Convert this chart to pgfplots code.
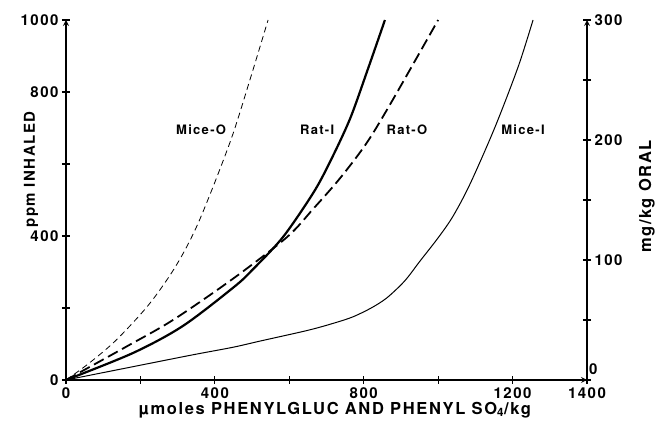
\documentclass[border=0pt]{standalone}
\usepackage{fontspec}
\setmainfont{TeX Gyre Heros}[LetterSpace=10]
\usepackage{pgfplots}
\pgfplotsset{compat=1.18}

% pixel-ish layout: 1 px of the reference = 1 pt here
\pgfplotsset{
  base/.style={
    scale only axis, width=521pt, height=360pt,
    at={(0,0)}, anchor=south west,
    xmin=0, xmax=1400,
    axis line style={line width=1.6pt, -},
    tick style={line width=1.2pt, black},
    major tick length=8pt,
    tick align=inside,
    /pgf/number format/assume math mode=true,
    tick label style={font=\fontsize{15}{15}\selectfont\bfseries},
  },
}

\begin{document}
\begin{tikzpicture}
\begin{axis}[base,
  axis x line=bottom, axis y line=left,
  ymin=0, ymax=1000,
  xtick={0,200,...,1400}, xticklabels={0,,400,,800,,1200,1400},
  ytick={0,200,...,1000}, yticklabels={0,,400,,800,1000},
  xlabel={µmoles PHENYLGLUC AND PHENYL SO\textsubscript{4}/kg},
  xlabel style={at={(axis description cs:0.516,-0.083)}, anchor=center,
    font=\fontsize{16.5}{16.5}\selectfont\bfseries},
  ylabel={ppm INHALED},
  ylabel style={at={(axis description cs:-0.067,0.585)}, anchor=center,
    font=\fontsize{15}{15}\selectfont\bfseries},
  clip=false,
]
% Mice-O (thin dashed)
\addplot[black, line width=0.8pt, dash pattern=on 6pt off 4pt, smooth] coordinates {
(0,0) (60,45) (134,110) (223,210) (296,318) (357,440) (441,661) (494,833) (543,1000)};
% Rat-I (heavy solid)
\addplot[black, line width=2.2pt, smooth] coordinates {
(0,0) (180,75) (314,150) (451,258) (500,305) (583,397) (664,519) (709,605) (763,725)
(810,860) (857,1000)};
% Rat-O (heavy dashed)
\addplot[black, line width=1.8pt, dash pattern=on 11pt off 5pt, smooth] coordinates {
(0,0) (161,92) (288,167) (451,283) (594,397) (664,475) (736,560) (809,660) (879,780)
(1000,1000)};
% Mice-I (thin solid)
\addplot[black, line width=1pt, smooth] coordinates {
(0,0) (180,37) (341,70) (449,91) (521,108) (650,138) (720,158) (770,175) (820,200)
(862,228) (910,275) (951,330) (1000,395) (1040,455) (1086,545) (1153,703) (1215,870)
(1255,1000)};
\begin{scope}[font=\fontsize{13}{13}\selectfont\bfseries]
\node at (axis cs:363,694) {Mice-O};
\node at (axis cs:675,694) {Rat-I};
\node at (axis cs:916,694) {Rat-O};
\node at (axis cs:1228,694) {Mice-I};
\end{scope}
\end{axis}
\begin{axis}[base,
  axis x line=none, axis y line=right,
  ymin=0, ymax=300,
  ytick={0,50,...,300}, yticklabels={,,100,,200,,300},
  ylabel={mg/kg ORAL},
  ylabel style={at={(axis description cs:1.115,0.51)}, anchor=center,
    font=\fontsize{16.5}{16.5}\selectfont\bfseries},
  clip=false,
]
\node[anchor=south west, inner sep=2pt, yshift=3pt,
  font=\fontsize{15}{15}\selectfont\bfseries] at (rel axis cs:1,0) {0};
\end{axis}
\pgfresetboundingbox
\path[use as bounding box] (-66pt,-48pt) rectangle (596pt,380pt);
\end{tikzpicture}
\end{document}
